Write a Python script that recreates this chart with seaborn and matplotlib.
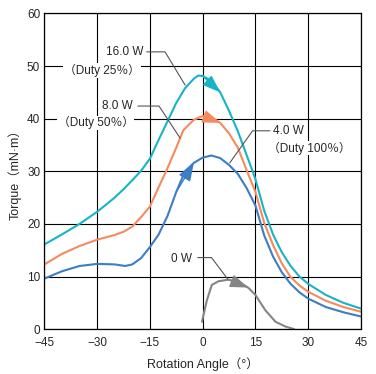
import pandas as pd
import seaborn as sns
import matplotlib.pyplot as plt
import numpy as np

# values (angle in deg, torque in mN·m)
angle_16w = [-45, -40, -35, -30, -25, -22.5, -20, -17.5, -15, -12.5, -10, -7.5, -5, -2.5, -1.3, 0, 2.5, 5, 7.5, 10, 12, 14.2, 15, 17.5, 20, 22.5, 25, 27.5, 30, 35, 40, 45]
torque_16w = [16.1, 18.0, 20.0, 22.3, 25.0, 26.6, 28.3, 30.1, 32.4, 36.0, 39.5, 43.0, 45.8, 47.6, 48.2, 48.1, 47.2, 45.0, 41.5, 37.6, 34.0, 30.0, 28.5, 22.5, 18.0, 14.6, 12.0, 10.0, 8.6, 6.5, 5.0, 3.9]

angle_8w = [-45, -40, -35, -30, -25, -22.5, -20, -17.5, -15, -12.5, -10.4, -7.5, -5.5, -2.5, 0, 2.5, 5, 7.5, 10, 12.5, 15, 17.5, 20, 22.5, 25, 27.5, 30, 35, 40, 45]
torque_8w = [12.3, 14.3, 15.8, 17.0, 17.9, 18.5, 19.5, 21.3, 23.3, 27.0, 30.0, 34.5, 37.8, 39.8, 40.5, 40.3, 39.2, 37.2, 34.5, 30.2, 26.1, 20.2, 16.0, 12.5, 9.9, 8.3, 7.1, 5.4, 4.2, 3.3]

angle_4w = [-45, -40, -35, -30, -25, -22, -20, -17.5, -15, -12.5, -10, -7.5, -5, -2.5, 0, 2.5, 5, 7.5, 10, 12.5, 15, 17.5, 20, 22.5, 25, 27.5, 30, 35, 40, 45]
torque_4w = [9.6, 11.0, 12.0, 12.4, 12.3, 12.0, 12.3, 13.5, 15.6, 18.0, 21.5, 26.1, 30.0, 31.6, 32.6, 33.0, 32.5, 31.2, 29.5, 26.8, 23.5, 17.8, 13.8, 10.8, 8.6, 7.0, 5.8, 4.2, 3.2, 2.4]

angle_0w = [-0.2, 1.2, 2.6, 4.5, 7.3, 10.1, 12.9, 15, 17.8, 20.7, 23.5, 26]
torque_0w = [1.4, 5.5, 8.4, 9.1, 9.4, 9.0, 7.9, 6.5, 3.6, 1.4, 0.5, 0.0]

series_names = ["16.0W", "8.0W", "4.0W", "0W"]
x_ticks = [-45, -30, -15, 0, 15, 30, 45]
y_ticks = [0, 10, 20, 30, 40, 50, 60]

colors = {"16.0W": "#17b4c7", "8.0W": "#f68a5c", "4.0W": "#3a7ec6", "0W": "#858585"}

frames = []
for name, xs, ys in zip(series_names,
                        [angle_16w, angle_8w, angle_4w, angle_0w],
                        [torque_16w, torque_8w, torque_4w, torque_0w]):
    frames.append(pd.DataFrame({"angle": xs, "torque": ys, "power": name}))
data = pd.concat(frames, ignore_index=True)

sns.set_style("white")
plt.rcParams["font.family"] = ["Liberation Sans", "Noto Sans CJK JP", "DejaVu Sans"]

fig = plt.figure(figsize=(3.76, 3.74), dpi=100)
ax = fig.add_axes([0.118, 0.120, 0.842, 0.844])

sns.lineplot(data=data, x="angle", y="torque", hue="power", palette=colors,
             sort=False, estimator=None, linewidth=1.5, legend=False, ax=ax)

# arrow heads along the curves: (series, index of the tip point)
arrow_specs = [("16.0W", 17), ("8.0W", 16), ("4.0W", 13), ("0W", 6)]
for name, i in arrow_specs:
    d = data[data["power"] == name].reset_index(drop=True)
    ax.annotate("", xy=(d["angle"][i], d["torque"][i]),
                xytext=(d["angle"][i - 2], d["torque"][i - 2]),
                arrowprops=dict(arrowstyle="-|>,head_length=1.1,head_width=0.4",
                                color=colors[name], lw=1.0, shrinkA=0, shrinkB=0,
                                mutation_scale=10), zorder=4)

ax.set_xlim(-45, 45)
ax.set_ylim(0, 60)
ax.set_xticks(x_ticks)
ax.set_yticks(y_ticks)
ax.grid(True, color="black", linewidth=0.8)
ax.set_axisbelow(True)
for s in ax.spines.values():
    s.set_color("black")
    s.set_linewidth(0.9)
ax.tick_params(length=0, labelsize=8.5)
ax.tick_params(axis="x", pad=5.5)
ax.tick_params(axis="y", pad=3)

ax.set_xlabel("Rotation Angle（°）", fontsize=9, labelpad=6)
ax.set_ylabel("Torque（mN·m）", fontsize=9, labelpad=4)

# labels with leader lines
lead = dict(color="#555555", lw=0.8, zorder=3)
box = dict(facecolor="white", edgecolor="none", pad=0.5)
fs = 8.5

ax.plot([-15.9, -10.7, -5.0], [52.7, 52.7, 46.4], **lead)
ax.text(-16.7, 52.7, "16.0 W", ha="right", va="center", fontsize=fs, bbox=box)
ax.text(-17.8, 49.2, "（Duty 25％）", ha="right", va="center", fontsize=fs, bbox=box)

ax.plot([-18.4, -12.4, -6.4], [42.4, 42.4, 36.3], **lead)
ax.text(-19.8, 42.4, "8.0 W", ha="right", va="center", fontsize=fs, bbox=box)
ax.text(-19.6, 39.2, "（Duty 50％）", ha="right", va="center", fontsize=fs, bbox=box)

ax.plot([19.1, 14.2, 7.7], [37.7, 37.7, 31.6], **lead)
ax.text(19.9, 37.7, "4.0 W", ha="left", va="center", fontsize=fs, bbox=box)
ax.text(18.6, 34.4, "（Duty 100％）", ha="left", va="center", fontsize=fs, bbox=box)

ax.plot([-1.4, 2.5, 7.2], [13.6, 13.6, 9.45], **lead)
ax.text(-2.9, 13.4, "0 W", ha="right", va="center", fontsize=fs, bbox=box)

fig.savefig("out.png", dpi=100)
